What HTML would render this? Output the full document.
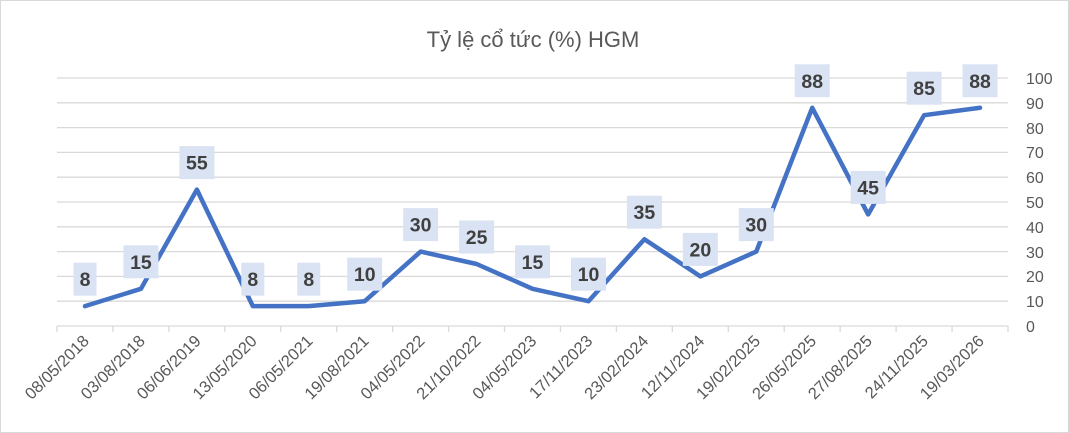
<!DOCTYPE html>
<html><head><meta charset="utf-8"><style>
body{margin:0;background:#fff}
svg{display:block;font-family:"Liberation Sans","DejaVu Sans",sans-serif}
</style></head><body>
<svg width="1069" height="433" viewBox="0 0 1069 433">
<rect x="0.5" y="0.5" width="1068" height="432" fill="#fff" stroke="#d9d9d9"/>
<text x="533" y="47" text-anchor="middle" font-size="22" fill="#595959">Tỷ lệ cổ tức (%) HGM</text>
<g stroke="#d9d9d9" stroke-width="1.3">
<line x1="57" x2="1008" y1="78" y2="78"/><line x1="57" x2="1008" y1="102.8" y2="102.8"/>
<line x1="57" x2="1008" y1="127.6" y2="127.6"/><line x1="57" x2="1008" y1="152.4" y2="152.4"/>
<line x1="57" x2="1008" y1="177.2" y2="177.2"/><line x1="57" x2="1008" y1="202" y2="202"/>
<line x1="57" x2="1008" y1="226.8" y2="226.8"/><line x1="57" x2="1008" y1="251.6" y2="251.6"/>
<line x1="57" x2="1008" y1="276.4" y2="276.4"/><line x1="57" x2="1008" y1="301.2" y2="301.2"/>
<line x1="57" x2="1008" y1="326" y2="326"/>
</g>
<g stroke="#d9d9d9" stroke-width="1.3" id="ticks"></g>
<g font-size="16" fill="#595959">
<text x="1026" y="84">100</text><text x="1026" y="109">90</text><text x="1026" y="134">80</text>
<text x="1026" y="158">70</text><text x="1026" y="183">60</text><text x="1026" y="208">50</text>
<text x="1026" y="233">40</text><text x="1026" y="258">30</text><text x="1026" y="282">20</text>
<text x="1026" y="307">10</text><text x="1026" y="332">0</text>
</g>
<g id="xl" font-size="16.5" fill="#595959"></g>
<polyline id="ln" fill="none" stroke="#4472c4" stroke-width="4.5" stroke-linejoin="round" stroke-linecap="round"/>
<g id="lb" font-size="19.5" font-weight="bold" fill="#404040"></g>
<script>
var v=[8,15,55,8,8,10,30,25,15,10,35,20,30,88,45,85,88];
var d=["08/05/2018","03/08/2018","06/06/2019","13/05/2020","06/05/2021","19/08/2021","04/05/2022","21/10/2022","04/05/2023","17/11/2023","23/02/2024","12/11/2024","19/02/2025","26/05/2025","27/08/2025","24/11/2025","19/03/2026"];
var ns="http://www.w3.org/2000/svg",pts=[],t=document.getElementById("ticks"),xl=document.getElementById("xl"),lb=document.getElementById("lb");
function el(n,a,p){var e=document.createElementNS(ns,n);for(var k in a)e.setAttribute(k,a[k]);p.appendChild(e);return e;}
for(var i=0;i<=17;i++){var tx=57+i*55.94;el("line",{x1:tx,x2:tx,y1:326,y2:332},t);}
for(var i=0;i<17;i++){
 var x=85+i*55.94,y=326-v[i]*2.48;pts.push(x+","+y);
 var tt=el("text",{x:0,y:0,"text-anchor":"end",transform:"translate("+(x+5)+",342) rotate(-45)"},xl);tt.textContent=d[i];
 var w=v[i]<10?23:35,cy=y-27;
 el("rect",{x:x-w/2,y:cy-16.5,width:w,height:33,fill:"#dae3f3"},lb);
 var lt=el("text",{x:x,y:cy+7,"text-anchor":"middle"},lb);lt.textContent=v[i];
}
document.getElementById("ln").setAttribute("points",pts.join(" "));
</script>
</svg>
</body></html>
